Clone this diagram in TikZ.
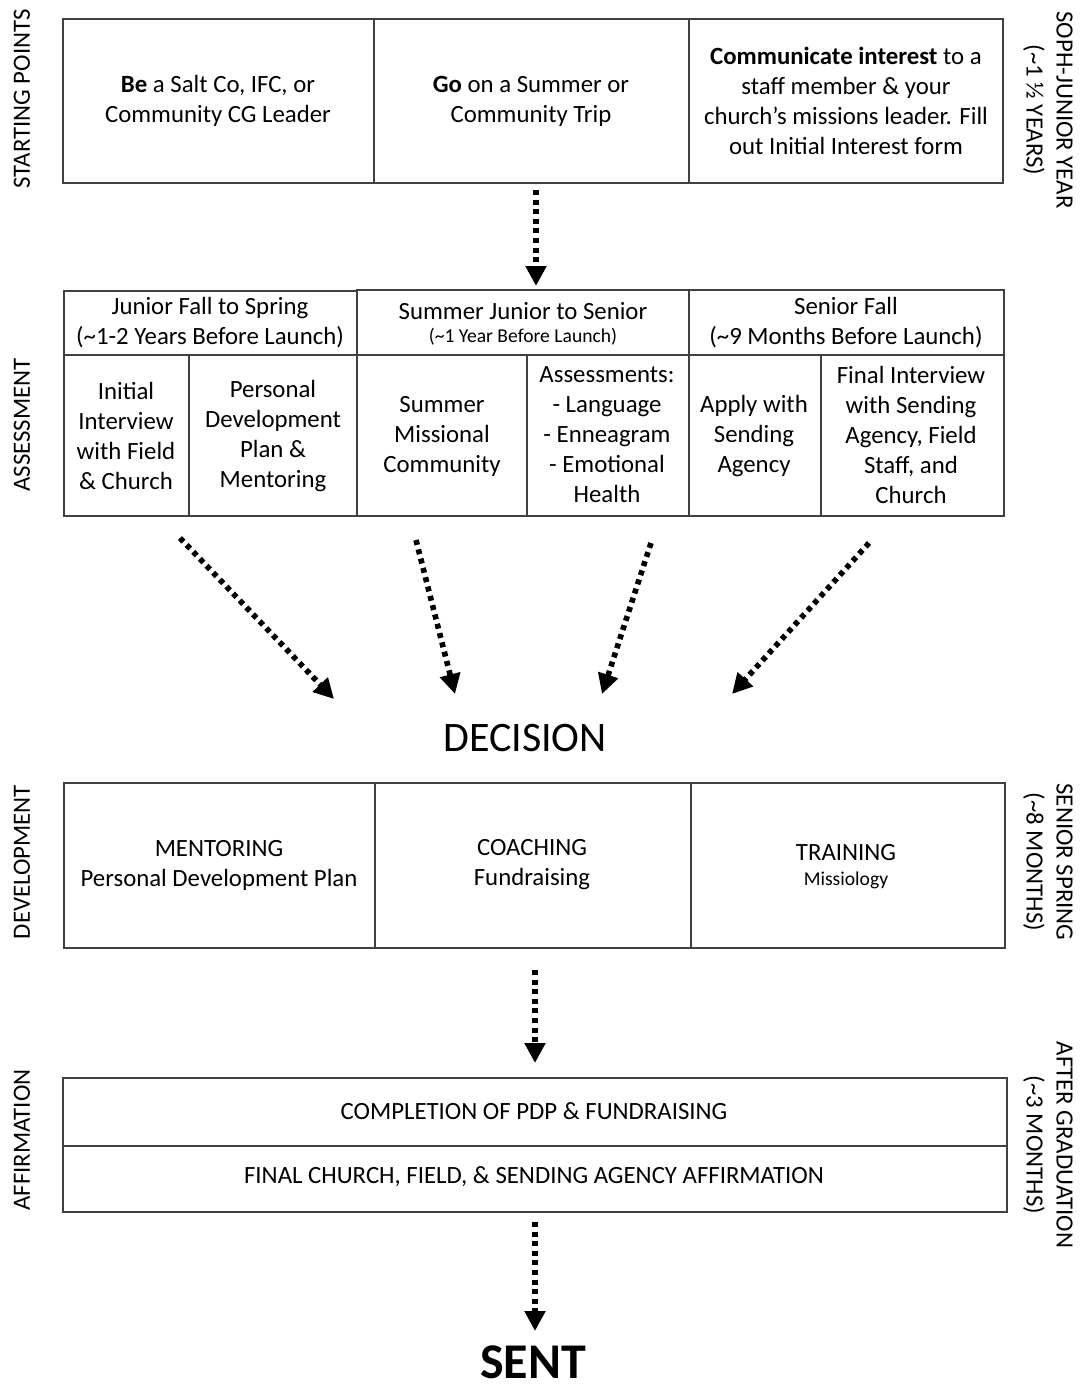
\documentclass[tikz,border=0pt]{standalone}
\usepackage{fontspec}
\setmainfont{Carlito}
\usetikzlibrary{arrows.meta}

\tikzset{
  box/.style={line width=0.7pt, draw=black!75},
  txt/.style={align=center, font=\fontsize{12.4}{15}\selectfont},
  smalltxt/.style={align=center, font=\fontsize{9.8}{12}\selectfont},
  side/.style={align=center, font=\fontsize{12.4}{15}\selectfont},
  flow/.style={line width=2.8pt, dash pattern=on 2.5pt off 2.3pt,
    -{Triangle[length=10pt,width=10pt]}},
}

\begin{document}
\begin{tikzpicture}[x=0.5pt, y=-0.5pt]
  \useasboundingbox (0,0) rectangle (1080,1388);

  % starting points
  \draw[box] (63,19) rectangle (1003,183);
  \draw[box] (374,19) -- (374,183);
  \draw[box] (689,19) -- (689,183);
  \node[txt] (be) at (218,101) {\textbf{Be} a Salt Co, IFC, or\\Community CG Leader};
  \node[txt] (go) at (531,101) {\textbf{Go} on a Summer or\\Community Trip};
  \node[txt] (comm) at (846,101) {\textbf{Communicate interest} to a\\staff member \& your\\church’s missions leader. Fill\\out Initial Interest form};

  % assessment
  \draw[box] (64,291) rectangle (357,355);
  \draw[box] (357,290) rectangle (689,355);
  \draw[box] (689,290) rectangle (1004,355);
  \draw[box] (64,355) rectangle (1004,516);
  \foreach \x in {189,357,527,689,821}
    \draw[box] (\x,355) -- (\x,516);
  \node[txt] (hjun) at (210,323) {Junior Fall to Spring\\(\textasciitilde1-2 Years Before Launch)};
  \node[txt] (hsum) at (523,311) {Summer Junior to Senior};
  \node[smalltxt] (hsumb) at (523,337) {(\textasciitilde1 Year Before Launch)};
  \node[txt] (hsen) at (846,323) {Senior Fall\\(\textasciitilde9 Months Before Launch)};
  \node[txt] (init) at (126,436) {Initial\\Interview\\with Field\\\& Church};
  \node[txt] (pdp) at (273,436) {Personal\\Development\\Plan \&\\Mentoring};
  \node[txt] (smc) at (442,436) {Summer\\Missional\\Community};
  \node[txt] (asmt) at (607,435) {Assessments:\\- Language\\- Enneagram\\- Emotional\\Health};
  \node[txt] (apply) at (754,436) {Apply with\\Sending\\Agency};
  \node[txt] (final) at (911,435) {Final Interview\\with Sending\\Agency, Field\\Staff, and\\Church};

  \node[font=\fontsize{21}{25}\selectfont] (decision) at (525,738) {DECISION};

  % development
  \draw[box] (64,783) rectangle (1005,948);
  \draw[box] (375,783) -- (375,948);
  \draw[box] (691,783) -- (691,948);
  \node[txt] (ment) at (219,865) {MENTORING\\Personal Development Plan};
  \node[txt] (coach) at (532,865) {COACHING\\Fundraising};
  \node[txt] (train) at (846,853) {TRAINING};
  \node[smalltxt] (miss) at (846,880) {Missiology};

  % affirmation
  \draw[box] (63,1078) rectangle (1007,1212);
  \draw[box] (63,1146) -- (1007,1146);
  \node[txt] (compl) at (534,1111) {COMPLETION OF PDP \& FUNDRAISING};
  \node[txt] (affirm) at (534,1177) {FINAL CHURCH, FIELD, \& SENDING AGENCY AFFIRMATION};

  \node[inner sep=0pt, font=\fontsize{25}{30}\selectfont\bfseries] (sent) at (533,1362) {SENT};

  % side labels
  \node[side, rotate=90] (lstart) at (22,99) {STARTING POINTS};
  \node[side, rotate=90] (lassess) at (22,425) {ASSESSMENT};
  \node[side, rotate=90] (ldev) at (22,862) {DEVELOPMENT};
  \node[side, rotate=90] (laff) at (22,1140) {AFFIRMATION};
  \node[side, rotate=-90] (rsoph) at (1048,110) {SOPH-JUNIOR YEAR\\(\textasciitilde1 ½ YEARS)};
  \node[side, rotate=-90] (rspring) at (1048,862) {SENIOR SPRING\\(\textasciitilde8 MONTHS)};
  \node[side, rotate=-90] (rgrad) at (1048,1145) {AFTER GRADUATION\\(\textasciitilde3 MONTHS)};

  % arrows
  \coordinate (a0) at (536,190);  \coordinate (b0) at (536,286);
  \coordinate (a1) at (180,538);  \coordinate (b1) at (334,699);
  \coordinate (a2) at (416,540);  \coordinate (b2) at (455,694);
  \coordinate (a3) at (651,543);  \coordinate (b3) at (602,694);
  \coordinate (a4) at (869,543);  \coordinate (b4) at (732,694);
  \coordinate (a5) at (535,970);  \coordinate (b5) at (535,1063);
  \coordinate (a6) at (535,1222); \coordinate (b6) at (535,1331);
  \foreach \i in {0,...,6}
    \draw[flow] (a\i) -- (b\i);

\end{tikzpicture}
\end{document}
